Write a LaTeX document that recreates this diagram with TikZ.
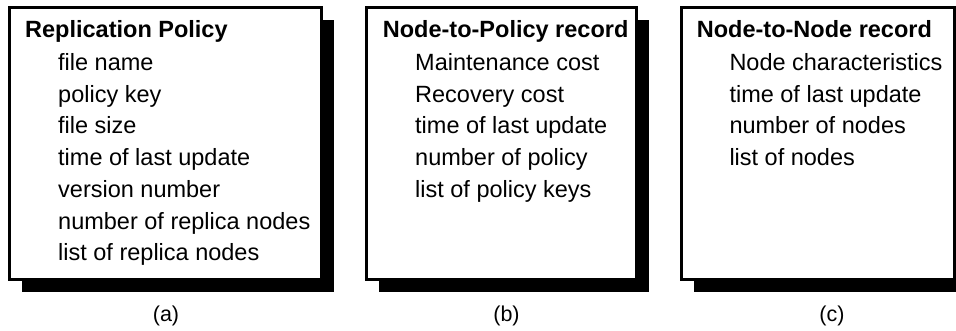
\documentclass[tikz,border=0pt]{standalone}
\usepackage{fontspec}
\setmainfont{Liberation Sans}
\usetikzlibrary{shadows}
\begin{document}
\begin{tikzpicture}[x=1pt,y=-1pt,
  recbox/.style={draw=black, line width=3pt, fill=white, rectangle, inner sep=0pt,
    minimum height=272pt,
    drop shadow={shadow xshift=12pt, shadow yshift=-12pt, fill=black, opacity=1}},
  rtitle/.style={anchor=base west, inner sep=0pt, font=\fontsize{23.5}{28}\selectfont\bfseries},
  ritem/.style={anchor=base west, inner sep=0pt, font=\fontsize{23.5}{28}\selectfont},
  rcap/.style={anchor=base, inner sep=0pt, font=\fontsize{21.5}{26}\selectfont}]
\useasboundingbox (0,0) rectangle (956,330);
\clip (0,0) rectangle (956,330);
% boxes
\node[recbox, minimum width=312pt] (boxa) at (165.5,143.5) {};
\node[recbox, minimum width=270pt] (boxb) at (501.5,143.5) {};
\node[recbox, minimum width=273pt] (boxc) at (818,143.5) {};
% box (a)
\node[rtitle] (ta) at (25,37.5) {Replication Policy};
\foreach \t [count=\i] in {file name, policy key, file size, time of last update, version number, number of replica nodes, list of replica nodes}
  \node[ritem] (a\i) at (58,{70.5+31.7*(\i-1)}) {\t};
% box (b)
\node[rtitle] (tb) at (382.7,37.5) {Node-to-Policy record};
\foreach \t [count=\i] in {Maintenance cost, Recovery cost, time of last update, number of policy, list of policy keys}
  \node[ritem] (b\i) at (415,{70.5+31.7*(\i-1)}) {\t};
% box (c)
\node[rtitle] (tc) at (696.7,37.5) {Node-to-Node record};
\foreach \t [count=\i] in {Node characteristics, time of last update, number of nodes, list of nodes}
  \node[ritem] (c\i) at (729.3,{70.5+31.7*(\i-1)}) {\t};
% captions
\node[rcap] (capa) at (166,321) {(a)};
\node[rcap] (capb) at (506.5,321) {(b)};
\node[rcap] (capc) at (832,321) {(c)};
\end{tikzpicture}
\end{document}
